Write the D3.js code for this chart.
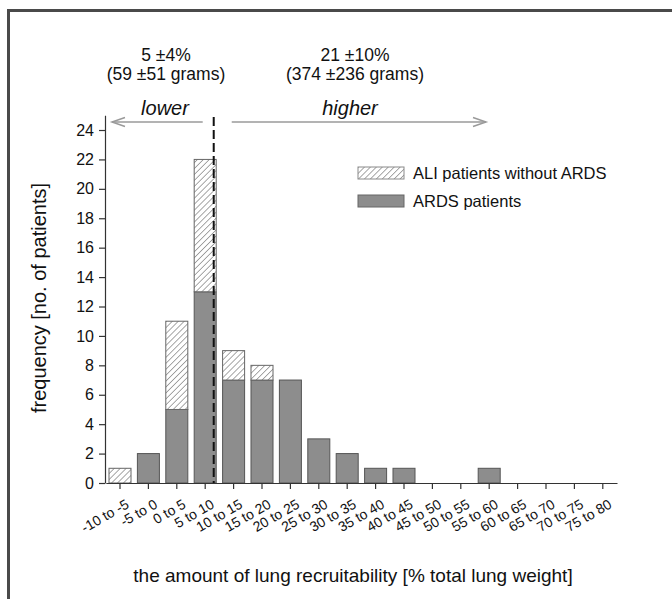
<!DOCTYPE html>
<html>
<head>
<meta charset="utf-8">
<script src="https://cdn.jsdelivr.net/npm/d3@7"></script>
<style>
  html, body { margin: 0; padding: 0; background: #fff; }
  svg { display: block; font-family: "Liberation Sans", Arial, Helvetica, sans-serif; }
</style>
</head>
<body>
<svg id="chart" width="672" height="599"></svg>
<script>
// Recruitability bins (% of total lung weight)
const categories = ["-10 to -5", "-5 to 0", "0 to 5", "5 to 10", "10 to 15", "15 to 20",
  "20 to 25", "25 to 30", "30 to 35", "35 to 40", "40 to 45", "45 to 50", "50 to 55",
  "55 to 60", "60 to 65", "65 to 70", "70 to 75", "75 to 80"];
// Patient counts per bin
const ardsCounts = [0, 2, 5, 13, 7, 7, 7, 3, 2, 1, 1, 0, 0, 1, 0, 0, 0, 0];
const aliCounts  = [1, 0, 6, 9, 2, 1, 0, 0, 0, 0, 0, 0, 0, 0, 0, 0, 0, 0];
const yTicks = [0, 2, 4, 6, 8, 10, 12, 14, 16, 18, 20, 22, 24];
const seriesNames = ["ALI patients without ARDS", "ARDS patients"];
// Split between lower and higher recruiters (% total lung weight)
const cutoff = 9;
const lowerGroup = ["5 \u00b14%", "(59 \u00b151 grams)"];
const higherGroup = ["21 \u00b110%", "(374 \u00b1236 grams)"];

const ink = "#111";
const svg = d3.select("#chart");

// Figure frame
svg.append("rect")
  .attr("x", 8.5).attr("y", 10.5).attr("width", 700).attr("height", 620)
  .attr("fill", "none").attr("stroke", "#4a4a4a").attr("stroke-width", 3);

const defs = svg.append("defs");
const pat = defs.append("pattern")
  .attr("id", "hatch").attr("patternUnits", "userSpaceOnUse")
  .attr("width", 4.2).attr("height", 4.2)
  .attr("patternTransform", "rotate(45)");
pat.append("rect").attr("width", 4.2).attr("height", 4.2).attr("fill", "#fff");
pat.append("line").attr("x1", 0).attr("y1", 0).attr("x2", 0).attr("y2", 4.2)
  .attr("stroke", "#7a7a7a").attr("stroke-width", 1.3);

const x = d3.scaleBand().domain(categories).range([105.8, 617])
  .paddingInner(0.225).paddingOuter(0.1125);
const y = d3.scaleLinear().domain([0, 25]).range([483, 115.3]);

// Linear mapping of recruitability values onto the binned axis
const step = x.step();
const xv = v => x(categories[0]) + x.bandwidth() / 2 + (v + 7.5) / 5 * step;

const rows = categories.map((c, i) => ({ c, ards: ardsCounts[i], ali: aliCounts[i] }));

// ARDS bars
svg.append("g").selectAll("rect").data(rows.filter(d => d.ards > 0)).join("rect")
  .attr("x", d => x(d.c)).attr("width", x.bandwidth())
  .attr("y", d => y(d.ards)).attr("height", d => y(0) - y(d.ards))
  .attr("fill", "#8d8d8d").attr("stroke", "#555").attr("stroke-width", 1);

// ALI (non-ARDS) bars stacked on top
svg.append("g").selectAll("rect").data(rows.filter(d => d.ali > 0)).join("rect")
  .attr("x", d => x(d.c)).attr("width", x.bandwidth())
  .attr("y", d => y(d.ards + d.ali)).attr("height", d => y(d.ards) - y(d.ards + d.ali))
  .attr("fill", "url(#hatch)").attr("stroke", "#666").attr("stroke-width", 1);

// Y axis
const yAxis = svg.append("g").attr("transform", "translate(105,0)")
  .call(d3.axisLeft(y).tickValues(yTicks).tickSize(6).tickSizeOuter(0).tickPadding(5));
yAxis.select(".domain").attr("stroke", "#333").attr("stroke-width", 1.2);
yAxis.selectAll(".tick line").attr("stroke", "#333").attr("stroke-width", 1.2);
yAxis.selectAll(".tick text").attr("font-size", 16).attr("fill", ink)
  .attr("font-family", "Liberation Sans, Arial, sans-serif");

// X axis
const xAxis = svg.append("g").attr("transform", `translate(0,${y(0)})`)
  .call(d3.axisBottom(x).tickSize(6).tickSizeOuter(0));
xAxis.select(".domain").attr("stroke", "#333").attr("stroke-width", 1.2);
xAxis.selectAll(".tick line").attr("stroke", "#333").attr("stroke-width", 1.2);
xAxis.selectAll(".tick text")
  .attr("font-size", 14).attr("fill", ink)
  .attr("font-family", "Liberation Sans, Arial, sans-serif")
  .attr("text-anchor", "end")
  .attr("x", 0).attr("y", 0).attr("dy", 0)
  .attr("transform", "translate(10,24) rotate(-30)");

// Dashed cutoff line
const xc = xv(cutoff);
svg.append("line")
  .attr("x1", xc).attr("x2", xc).attr("y1", 117).attr("y2", y(0))
  .attr("stroke", "#111").attr("stroke-width", 2).attr("stroke-dasharray", "9,4");

// Lower / higher arrows
const arrowY = 122;
const arrowColor = "#9a9a9a";
function arrow(x1, x2) {
  const g = svg.append("g").attr("stroke", arrowColor).attr("stroke-width", 1.5).attr("fill", "none");
  g.append("line").attr("x1", x1).attr("x2", x2).attr("y1", arrowY).attr("y2", arrowY);
  const dir = x2 > x1 ? -1 : 1;
  g.append("path").attr("d",
    `M${x2 + dir * 13},${arrowY - 4.5}L${x2},${arrowY}L${x2 + dir * 13},${arrowY + 4.5}`);
}
arrow(xc - 11, 112);
arrow(xc + 18, 486);

svg.append("text").attr("x", 165).attr("y", 115).attr("text-anchor", "middle")
  .attr("font-size", 20).attr("font-style", "italic").attr("fill", ink).text("lower");
svg.append("text").attr("x", 350).attr("y", 115).attr("text-anchor", "middle")
  .attr("font-size", 20).attr("font-style", "italic").attr("fill", ink).text("higher");

// Group summaries
[[166, lowerGroup], [355, higherGroup]].forEach(([cx, lines]) => {
  svg.append("text").attr("x", cx).attr("y", 61).attr("text-anchor", "middle")
    .attr("font-size", 17.5).attr("fill", ink).text(lines[0]);
  svg.append("text").attr("x", cx).attr("y", 80).attr("text-anchor", "middle")
    .attr("font-size", 17.5).attr("fill", ink).text(lines[1]);
});

// Legend
const legend = svg.append("g").attr("transform", "translate(358,167)");
legend.append("rect").attr("x", 0).attr("y", 0).attr("width", 46).attr("height", 12)
  .attr("fill", "url(#hatch)").attr("stroke", "#8a8a8a");
legend.append("rect").attr("x", 0).attr("y", 28).attr("width", 46).attr("height", 12)
  .attr("fill", "#8d8d8d").attr("stroke", "#666");
legend.selectAll("text.lg").data(seriesNames).join("text")
  .attr("x", 55).attr("y", (d, i) => 12 + i * 28)
  .attr("font-size", 16.5).attr("fill", ink).text(d => d);

// Axis titles
svg.append("text").attr("x", 353).attr("y", 582).attr("text-anchor", "middle")
  .attr("font-size", 19).attr("fill", ink)
  .text("the amount of lung recruitability [% total lung weight]");
svg.append("text")
  .attr("transform", "translate(46,298) rotate(-90)")
  .attr("text-anchor", "middle").attr("font-size", 20).attr("fill", ink)
  .text("frequency [no. of patients]");
</script>
</body>
</html>
